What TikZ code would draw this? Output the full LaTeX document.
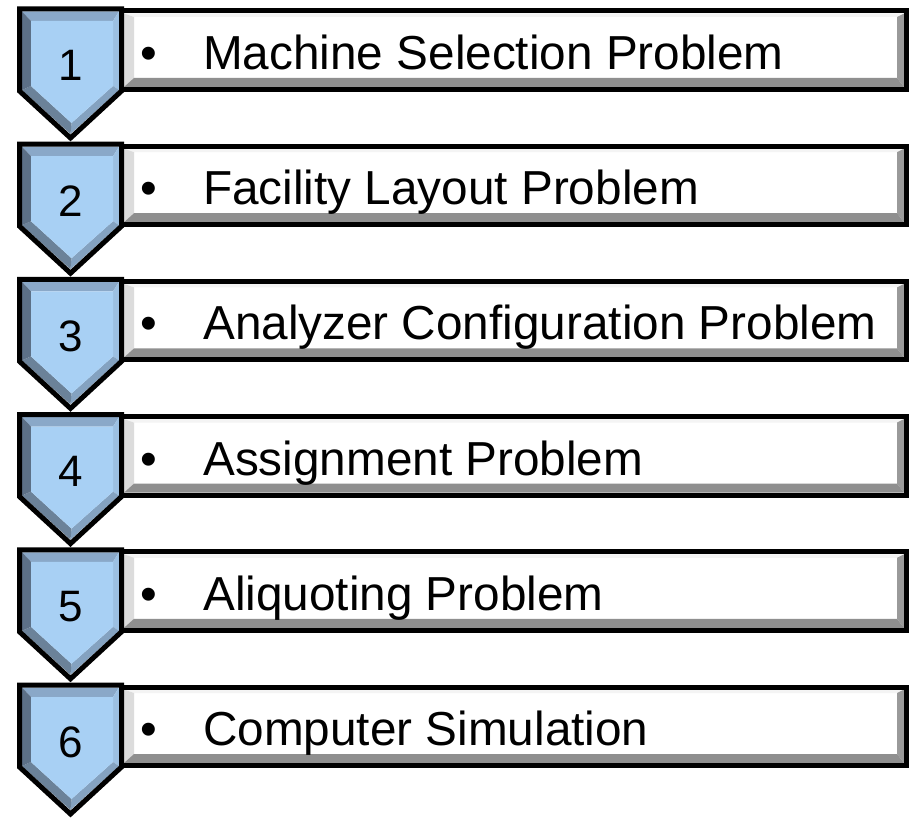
\documentclass[tikz,border=0pt]{standalone}
\usepackage{fontspec}
\setmainfont{Liberation Sans}
\definecolor{chevfill}{HTML}{A8D0F4}
\definecolor{chevtop}{HTML}{8AA8C8}
\definecolor{chevleft}{HTML}{5C7087}
\definecolor{chevright}{HTML}{9CC0E2}
\definecolor{chevbl}{HTML}{6B8299}
\definecolor{chevbr}{HTML}{84A2C0}
\definecolor{boxleft}{HTML}{DCDCDC}
\definecolor{boxtop}{HTML}{F4F4F4}
\definecolor{boxright}{HTML}{9A9A9A}
\definecolor{boxbottom}{HTML}{8F8F8F}
\tikzstyle{frame}=[draw=black,line width=5pt,line join=miter]
\tikzstyle{num}=[font=\fontsize{44}{48}\selectfont,inner sep=0pt,anchor=base]
\tikzstyle{bulletmark}=[font=\fontsize{47.7}{52}\selectfont,inner sep=0pt,anchor=base]
\tikzstyle{item}=[font=\fontsize{47.7}{52}\selectfont,inner sep=0pt,anchor=base west]

\begin{document}
\begin{tikzpicture}[x=1pt,y=-1pt]
	\useasboundingbox (0,0) rectangle (909,818);

	% First we draw the bevelled boxes and arrows
	\foreach \i in {0,...,5}{
	\begin{scope}[shift={(0,135.2*\i)}]
		% box with its bevel
		\fill[white] (124,13.5) rectangle (904,87);
		\fill[boxtop] (124,13.5) -- (904,13.5) -- (897,17) -- (134,17) -- cycle;
		\fill[boxleft] (124,13.5) -- (134,17) -- (134,78) -- (124,87) -- cycle;
		\fill[boxright] (904,13.5) -- (904,87) -- (897,78) -- (897,17) -- cycle;
		\fill[boxbottom] (124,87) -- (134,78) -- (897,78) -- (904,87) -- cycle;
		\path[frame] (121.5,11) rectangle (906.5,89.5);

		% arrow with its bevel
		\fill[chevtop] (22,11.5) -- (119,11.5) -- (113,21) -- (31,21) -- cycle;
		\fill[chevright] (119,11.5) -- (119,90) -- (113,86) -- (113,21) -- cycle;
		\fill[chevbr] (119,90) -- (70.5,134) -- (71.5,123) -- (113,86) -- cycle;
		\fill[chevbl] (70.5,134) -- (22,90) -- (31,86) -- (71.5,123) -- cycle;
		\fill[chevleft] (22,90) -- (22,11.5) -- (31,21) -- (31,86) -- cycle;
		\fill[chevfill] (31,21) -- (113,21) -- (113,86) -- (71.5,123) -- (31,86) -- cycle;
		\path[frame] (19.5,9) -- (121.5,9) -- (121.5,91) -- (70.5,138) -- (19.5,91) -- cycle;
	\end{scope}
	}

	% Then the numbers, bullets and texts
	\foreach \n/\txt in {1/Machine Selection Problem, 2/Facility Layout Problem,
						3/Analyzer Configuration Problem, 4/Assignment Problem,
						5/Aliquoting Problem, 6/Computer Simulation}{
		\node[num] (num\n) at (70.5,{81+135.2*(\n-1)}) {\n};
		\node[bulletmark] (bullet\n) at (149,{69.5+135.2*(\n-1)}) {•};
		\node[item] (item\n) at (203,{69.5+135.2*(\n-1)}) {\txt};
	}

\end{tikzpicture}
\end{document}
